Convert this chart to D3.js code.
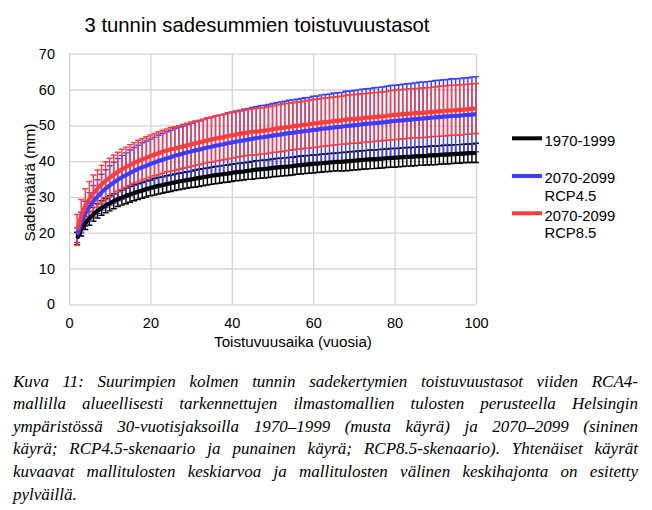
<!DOCTYPE html>
<html><head><meta charset="utf-8">
<script src="https://cdn.jsdelivr.net/npm/d3@7"></script>
<style>body{margin:0;background:#fff} svg{display:block}</style>
</head><body>
<svg id="chart" width="652" height="510"></svg>
<script>
const returnPeriods = [2,3,4,5,6,7,8,9,10,11,12,13,14,15,16,17,18,19,20,21,22,23,24,25,26,27,28,29,30,31,32,33,34,35,36,37,38,39,40,41,42,43,44,45,46,47,48,49,50,51,52,53,54,55,56,57,58,59,60,61,62,63,64,65,66,67,68,69,70,71,72,73,74,75,76,77,78,79,80,81,82,83,84,85,86,87,88,89,90,91,92,93,94,95,96,97,98,99,100];

const mean1970 = [18.4,20.9,22.7,24.0,25.1,26.1,26.9,27.6,28.2,28.8,
 29.4,29.8,30.3,30.7,31.1,31.5,31.8,32.2,32.5,32.8,
 33.1,33.3,33.6,33.8,34.1,34.3,34.5,34.7,34.9,35.1,
 35.3,35.5,35.7,35.9,36.1,36.2,36.4,36.5,36.7,36.9,
 37.0,37.1,37.3,37.4,37.6,37.7,37.8,37.9,38.1,38.2,
 38.3,38.4,38.5,38.6,38.8,38.9,39.0,39.1,39.2,39.3,
 39.4,39.5,39.6,39.7,39.8,39.8,39.9,40.0,40.1,40.2,
 40.3,40.4,40.5,40.5,40.6,40.7,40.8,40.9,40.9,41.0,
 41.1,41.2,41.2,41.3,41.4,41.4,41.5,41.6,41.6,41.7,
 41.8,41.8,41.9,42.0,42.0,42.1,42.2,42.2,42.3];
const sd1970 = [1.7,1.8,1.8,1.9,1.9,2.0,2.0,2.0,2.1,2.1,
 2.1,2.1,2.2,2.2,2.2,2.2,2.2,2.2,2.2,2.3,
 2.3,2.3,2.3,2.3,2.3,2.3,2.3,2.3,2.3,2.4,
 2.4,2.4,2.4,2.4,2.4,2.4,2.4,2.4,2.4,2.4,
 2.4,2.4,2.4,2.5,2.5,2.5,2.5,2.5,2.5,2.5,
 2.5,2.5,2.5,2.5,2.5,2.5,2.5,2.5,2.5,2.5,
 2.5,2.5,2.5,2.5,2.5,2.6,2.6,2.6,2.6,2.6,
 2.6,2.6,2.6,2.6,2.6,2.6,2.6,2.6,2.6,2.6,
 2.6,2.6,2.6,2.6,2.6,2.6,2.6,2.6,2.6,2.6,
 2.6,2.6,2.6,2.6,2.6,2.6,2.6,2.6,2.7];

const meanRcp45 = [19.3,22.8,25.3,27.2,28.8,30.1,31.3,32.3,33.2,34.0,
 34.8,35.5,36.1,36.7,37.3,37.8,38.3,38.7,39.2,39.6,
 40.0,40.4,40.8,41.1,41.5,41.8,42.1,42.4,42.7,43.0,
 43.2,43.5,43.8,44.0,44.3,44.5,44.7,45.0,45.2,45.4,
 45.6,45.8,46.0,46.2,46.4,46.6,46.7,46.9,47.1,47.3,
 47.4,47.6,47.8,47.9,48.1,48.2,48.4,48.5,48.7,48.8,
 49.0,49.1,49.2,49.4,49.5,49.6,49.8,49.9,50.0,50.1,
 50.3,50.4,50.5,50.6,50.7,50.8,50.9,51.1,51.2,51.3,
 51.4,51.5,51.6,51.7,51.8,51.9,52.0,52.1,52.2,52.3,
 52.4,52.5,52.6,52.6,52.7,52.8,52.9,53.0,53.1];
const sdRcp45 = [2.0,2.9,3.5,4.0,4.4,4.7,5.0,5.3,5.5,5.7,
 5.9,6.1,6.2,6.4,6.5,6.6,6.8,6.9,7.0,7.1,
 7.2,7.3,7.4,7.5,7.6,7.7,7.7,7.8,7.9,8.0,
 8.0,8.1,8.2,8.2,8.3,8.3,8.4,8.5,8.5,8.6,
 8.6,8.7,8.7,8.8,8.8,8.9,8.9,8.9,9.0,9.0,
 9.1,9.1,9.2,9.2,9.2,9.3,9.3,9.3,9.4,9.4,
 9.5,9.5,9.5,9.6,9.6,9.6,9.7,9.7,9.7,9.8,
 9.8,9.8,9.8,9.9,9.9,9.9,10.0,10.0,10.0,10.0,
 10.1,10.1,10.1,10.1,10.2,10.2,10.2,10.2,10.3,10.3,
 10.3,10.3,10.4,10.4,10.4,10.4,10.4,10.5,10.5];

const meanRcp85 = [20.8,24.7,27.5,29.4,31.0,32.3,33.5,34.5,35.4,36.2,
 37.0,37.7,38.3,38.9,39.5,40.0,40.5,40.9,41.4,41.8,
 42.2,42.6,43.0,43.3,43.5,43.8,44.1,44.4,44.7,45.0,
 45.2,45.5,45.8,46.0,46.3,46.5,46.7,47.0,47.2,47.4,
 47.6,47.8,48.0,48.2,48.2,48.4,48.5,48.7,48.9,49.1,
 49.2,49.4,49.6,49.7,49.9,50.0,50.2,50.3,50.5,50.6,
 50.8,50.9,51.0,51.2,51.3,51.4,51.6,51.7,51.8,51.8,
 52.0,52.1,52.2,52.3,52.4,52.5,52.6,52.8,52.9,53.0,
 53.1,53.2,53.3,53.4,53.4,53.5,53.6,53.7,53.8,53.9,
 54.0,54.1,54.2,54.2,54.3,54.4,54.5,54.6,54.7];
const sdRcp85 = [4.3,4.6,4.8,4.9,5.1,5.2,5.3,5.3,5.4,5.5,
 5.5,5.6,5.6,5.7,5.7,5.8,5.8,5.9,5.9,5.9,
 6.0,6.0,6.0,6.1,6.1,6.1,6.1,6.2,6.2,6.2,
 6.2,6.2,6.3,6.3,6.3,6.3,6.3,6.4,6.4,6.4,
 6.4,6.4,6.4,6.5,6.5,6.5,6.5,6.5,6.5,6.6,
 6.6,6.6,6.6,6.6,6.6,6.6,6.6,6.7,6.7,6.7,
 6.7,6.7,6.7,6.7,6.7,6.7,6.8,6.8,6.8,6.8,
 6.8,6.8,6.8,6.8,6.8,6.8,6.8,6.9,6.9,6.9,
 6.9,6.9,6.9,6.9,6.9,6.9,6.9,6.9,6.9,7.0,
 7.0,7.0,7.0,7.0,7.0,7.0,7.0,7.0,7.0];

const seriesLabels = [["1970-1999"], ["2070-2099", "RCP4.5"], ["2070-2099", "RCP8.5"]];
const seriesColors = ["#000000", "#3d3dff", "#ff3d3d"];
const xTicks = [0, 20, 40, 60, 80, 100];
const yTicks = [0, 10, 20, 30, 40, 50, 60, 70];
const chartTitle = "3 tunnin sadesummien toistuvuustasot";
const xTitle = "Toistuvuusaika (vuosia)";
const yTitle = "Sademäärä (mm)";
const captionLines = [
  "Kuva 11: Suurimpien kolmen tunnin sadekertymien toistuvuustasot viiden RCA4-",
  "mallilla alueellisesti tarkennettujen ilmastomallien tulosten perusteella Helsingin",
  "ympäristössä 30-vuotisjaksoilla 1970–1999 (musta käyrä) ja 2070–2099 (sininen",
  "käyrä; RCP4.5-skenaario ja punainen käyrä; RCP8.5-skenaario). Yhtenäiset käyrät",
  "kuvaavat mallitulosten keskiarvoa ja mallitulosten välinen keskihajonta on esitetty",
  "pylväillä."
];

const series = [
  {mean: mean1970, sd: sd1970},
  {mean: meanRcp45, sd: sdRcp45},
  {mean: meanRcp85, sd: sdRcp85}
].map((s, k) => ({
  label: seriesLabels[k], color: seriesColors[k],
  pts: returnPeriods.map((t, i) => ({t, m: s.mean[i], s: s.sd[i]}))
}));

const sans = "'Liberation Sans', Arial, sans-serif";
const svg = d3.select("#chart");
const x = d3.scaleLinear().domain([0, 100]).range([69, 476]);
const y = d3.scaleLinear().domain([0, 70]).range([304.3, 53.7]);
const gridColor = "#d4d4d4";

// Title
svg.append("text").attr("x", 84.5).attr("y", 32).attr("font-family", sans)
  .attr("font-size", 20.3).attr("fill", "#000").text(chartTitle);

// Axes with gridlines
svg.append("g").attr("transform", `translate(0,${y(0)})`)
  .call(d3.axisBottom(x).tickValues(xTicks).tickSize(-(y(0) - y(70))).tickPadding(13.5))
  .call(g => {
    g.select(".domain").remove();
    g.selectAll("line").attr("stroke", gridColor).attr("stroke-width", 1.3);
    g.selectAll("text").attr("font-family", sans).attr("font-size", 14.5).attr("fill", "#000");
  });
svg.append("g").attr("transform", `translate(${x(0)},0)`)
  .call(d3.axisLeft(y).tickValues(yTicks).tickSize(-(x(100) - x(0))).tickPadding(14))
  .call(g => {
    g.select(".domain").remove();
    g.selectAll("line").attr("stroke", gridColor).attr("stroke-width", 1.3);
    g.selectAll("text").attr("font-family", sans).attr("font-size", 14.5).attr("fill", "#000");
  });

// Axis titles
svg.append("text").attr("x", 293).attr("y", 346.5).attr("text-anchor", "middle")
  .attr("font-family", sans).attr("font-size", 15.2).text(xTitle);
svg.append("text").attr("transform", "translate(34.5,182.5) rotate(-90)")
  .attr("text-anchor", "middle").attr("font-family", sans).attr("font-size", 15.2).text(yTitle);

// Error bars
const capHalf = 3;
series.forEach(s => {
  const g = svg.append("g").attr("stroke", s.color).attr("stroke-width", 1.45).attr("fill", "none");
  g.selectAll("path").data(s.pts).join("path")
    .attr("d", d => {
      const cx = x(d.t), y1 = y(d.m + d.s), y2 = y(d.m - d.s);
      return `M${cx},${y1}V${y2}M${cx - capHalf},${y1}H${cx + capHalf}M${cx - capHalf},${y2}H${cx + capHalf}`;
    });
});

// Mean lines
const line = d3.line().x(d => x(d.t)).y(d => y(d.m));
series.forEach(s => {
  svg.append("path").datum(s.pts).attr("d", line).attr("fill", "none")
    .attr("stroke", s.color).attr("stroke-width", 4.2).attr("stroke-linejoin", "round");
});

// Legend
const legendY = [138.3, 176, 213.3];
series.forEach((s, k) => {
  svg.append("line").attr("x1", 512).attr("x2", 542).attr("y1", legendY[k]).attr("y2", legendY[k])
    .attr("stroke", s.color).attr("stroke-width", 4);
  s.label.forEach((t, j) => {
    svg.append("text").attr("x", 544.5).attr("y", legendY[k] + 7.4 + j * 17.2)
      .attr("font-family", sans).attr("font-size", 14.8).attr("fill", "#000").text(t);
  });
});

// Caption (justified)
const serif = "'Liberation Serif', 'Times New Roman', serif";
const capLeft = 13, capRight = 638, capBase = 386.5, capLead = 22.6;
captionLines.forEach((ln, i) => {
  const words = ln.split(" ");
  const yy = capBase + i * capLead;
  const g = svg.append("g").attr("font-family", serif).attr("font-style", "italic")
    .attr("font-size", 17).attr("fill", "#000");
  const nodes = words.map(w => g.append("text").attr("y", yy).text(w));
  const widths = nodes.map(n => n.node().getComputedTextLength());
  const total = d3.sum(widths);
  const last = i === captionLines.length - 1;
  const gap = last ? 4.5 : (capRight - capLeft - total) / (words.length - 1);
  let cx = capLeft;
  nodes.forEach((n, j) => { n.attr("x", cx); cx += widths[j] + gap; });
});
</script>
</body></html>
